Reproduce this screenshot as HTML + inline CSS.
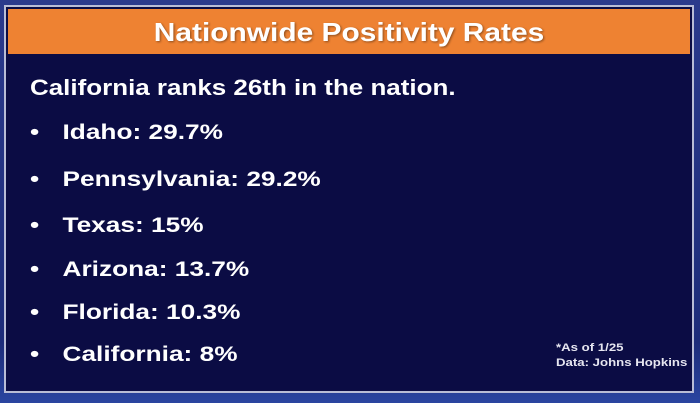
<!DOCTYPE html>
<html><head><meta charset="utf-8"><style>
html,body{margin:0;padding:0;}
body{width:700px;height:403px;overflow:hidden;background:linear-gradient(#2b3a8c,#1d2c7a 85%,#2a45a0);font-family:"Liberation Sans",sans-serif;position:relative;}
#panel{position:absolute;left:4px;top:5px;width:686px;height:384px;background:#0b0c44;border:2px solid #b9bdd6;}
#bar{position:absolute;left:2px;top:2px;right:2px;height:45px;background:#ee8232;}
#title{position:absolute;left:0;right:0;top:0;color:#fff;font-weight:bold;font-size:26px;text-align:center;line-height:46px;text-shadow:1px 1px 2px rgba(0,0,0,.4);transform:scaleX(1.15);}
.t{position:absolute;color:#fff;font-weight:bold;white-space:nowrap;transform-origin:0 50%;}
#sub{left:24px;top:68px;font-size:22px;transform:scaleX(1.18);}
.item{left:24px;font-size:21px;transform:scaleX(1.25);}
.item span.b{display:inline-block;width:26px;}
#note{left:550px;top:334px;font-size:11px;color:#e6e6f0;line-height:15px;transform:scaleX(1.2);}
</style></head><body>
<div id="panel">
<div id="bar"><div id="title">Nationwide Positivity Rates</div></div>
<div class="t" id="sub">California ranks 26th in the nation.</div>
<div class="t item" style="top:114px"><span class="b">•</span>Idaho: 29.7%</div>
<div class="t item" style="top:161px"><span class="b">•</span>Pennsylvania: 29.2%</div>
<div class="t item" style="top:207px"><span class="b">•</span>Texas: 15%</div>
<div class="t item" style="top:251px"><span class="b">•</span>Arizona: 13.7%</div>
<div class="t item" style="top:294px"><span class="b">•</span>Florida: 10.3%</div>
<div class="t item" style="top:336px"><span class="b">•</span>California: 8%</div>
<div class="t" id="note">*As of 1/25<br>Data: Johns Hopkins</div>
</div>
</body></html>
